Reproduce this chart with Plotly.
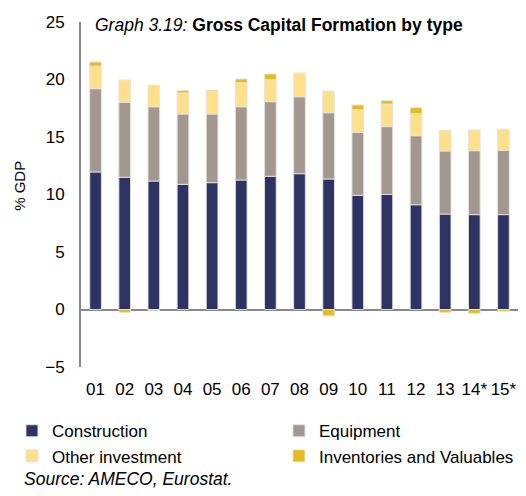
import plotly.graph_objects as go

years = ["01", "02", "03", "04", "05", "06", "07", "08", "09", "10", "11", "12", "13", "14*", "15*"]
construction = [11.96, 11.5, 11.17, 10.88, 11.03, 11.26, 11.58, 11.81, 11.35, 9.93, 10.0, 9.11, 8.3, 8.25, 8.25]
equipment = [7.24, 6.52, 6.46, 6.12, 5.97, 6.37, 6.49, 6.69, 5.76, 5.48, 5.9, 6.0, 5.48, 5.56, 5.59]
other_investment = [1.97, 1.94, 1.87, 1.83, 1.97, 2.09, 1.91, 2.04, 1.89, 1.96, 1.97, 1.92, 1.8, 1.8, 1.83]
inventories = [0.35, -0.25, -0.1, 0.2, 0.09, 0.32, 0.5, 0.0, -0.55, 0.41, 0.29, 0.52, -0.25, -0.33, -0.15]

series = [
    ("Construction", construction, "#2D3363", "legend"),
    ("Equipment", equipment, "#A39890", "legend2"),
    ("Other investment", other_investment, "#FFE08A", "legend"),
    ("Inventories and Valuables", inventories, "#E4BC1E", "legend2"),
]

FONT = "Liberation Sans, Arial, sans-serif"
FS = 17.5

fig = go.Figure()
for name, vals, col, lg in series:
    fig.add_trace(go.Bar(
        x=years, y=vals, name=name, width=0.4, legend=lg,
        marker=dict(color=col, line=dict(color="rgba(230,226,220,0.9)", width=1)),
    ))

legend_common = dict(
    orientation="v", xanchor="left", yanchor="top",
    font=dict(family=FONT, size=17, color="#000"),
    traceorder="normal", bgcolor="rgba(0,0,0,0)",
)

fig.update_layout(
    width=510, height=480,
    barmode="relative",
    plot_bgcolor="white", paper_bgcolor="white",
    margin=dict(l=73, r=0, t=14, b=121, autoexpand=False),
    font=dict(family=FONT, size=FS, color="#000000"),
    showlegend=True,
    legend=dict(x=-0.158, y=-0.134, **legend_common),
    legend2=dict(x=0.453, y=-0.134, **legend_common),
)

fig.update_yaxes(
    range=[-5, 25], dtick=5, showgrid=False,
    showline=True, linecolor="#888888", linewidth=2,
    zeroline=True, zerolinecolor="#888888", zerolinewidth=2,
    ticks="", ticklabelstandoff=11, automargin=False,
    tickfont=dict(family=FONT, size=17, color="#000"),
)
fig.update_xaxes(
    showgrid=False, showline=False, ticks="", ticklabelstandoff=10, automargin=False,
    tickfont=dict(family=FONT, size=17, color="#000"),
)

fig.add_annotation(
    text="<i>Graph 3.19:</i> <b>Gross Capital Formation by type</b>",
    xref="paper", yref="paper", x=0.0275, y=0.991, xanchor="left", yanchor="middle",
    showarrow=False, font=dict(family=FONT, size=FS, color="#000"),
)
fig.add_annotation(
    text="% GDP", textangle=-90,
    xref="paper", yref="paper", x=-0.1396, y=0.525, xanchor="center", yanchor="middle",
    showarrow=False, font=dict(family=FONT, size=15, color="#000"),
)
fig.add_annotation(
    text="<i>Source: AMECO, Eurostat.</i>",
    xref="paper", yref="paper", x=-0.135, y=-0.325, xanchor="left", yanchor="middle",
    showarrow=False, font=dict(family=FONT, size=FS, color="#000"),
)

fig.write_html("out.html")
